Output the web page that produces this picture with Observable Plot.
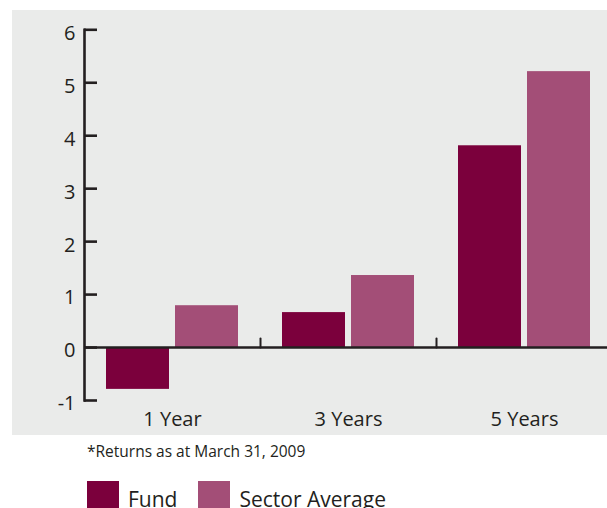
<!DOCTYPE html>
<html><head><meta charset="utf-8">
<script src="https://cdn.jsdelivr.net/npm/d3@7"></script>
<script src="https://cdn.jsdelivr.net/npm/@observablehq/plot@0.6"></script>
<style>
html,body{margin:0;padding:0;background:#fff;width:607px;height:508px;overflow:hidden;font-family:"Open Sans",sans-serif;color:#231f20}
#chart{position:absolute;left:12px;top:10px;width:595px;height:425px;background:#eaebea;overflow:hidden}
#caption{position:absolute;left:87px;top:444px;font-size:15.5px;line-height:15px;white-space:nowrap}
#legend{position:absolute;left:87px;top:481px;display:flex;align-items:flex-start;white-space:nowrap}
.item{display:flex;align-items:flex-start;margin-right:21px}
.sw{width:32px;height:30px;margin-right:9px}
.lab{font-size:21px;line-height:20px;position:relative;top:8px}
</style></head><body>
<div id="chart"></div>
<div id="caption">*Returns as at March 31, 2009</div>
<div id="legend"></div>
<script>
const periods = ["1 Year", "3 Years", "5 Years"];
const seriesNames = ["Fund", "Sector Average"];
const fundValues = [-0.79, 0.66, 3.81];
const sectorValues = [0.79, 1.36, 5.21];
const yTicks = [-1, 0, 1, 2, 3, 4, 5, 6];
const colors = ["#7b003c", "#a34e77"];

const data = periods.flatMap((p, i) => [
  {period: p, series: seriesNames[0], value: fundValues[i]},
  {period: p, series: seriesNames[1], value: sectorValues[i]}
]);

const ink = "#231f20";
const tickUp = {draw(ctx, l) { ctx.moveTo(0, 0); ctx.lineTo(0, -l); }};

const chart = Plot.plot({
  width: 595, height: 425,
  marginLeft: 72, marginRight: 0, marginTop: 19.3, marginBottom: 35,
  style: {background: "transparent", fontFamily: '"Open Sans", sans-serif', color: ink},
  fx: {domain: periods, padding: 0, range: [72, 600], label: null},
  x: {domain: seriesNames, paddingInner: 0.0857, paddingOuter: 0.3, axis: null},
  y: {domain: [-1, 6], label: null},
  color: {domain: seriesNames, range: colors},
  marks: [
    Plot.barY(data, {fx: "period", x: "series", y: "value", fill: "series"}),
    Plot.ruleY([0], {stroke: ink, strokeWidth: 2.6}),
    Plot.vector(periods.slice(1), {fx: d => d, y: 0, frameAnchor: "left", length: 9, anchor: "start", shape: tickUp, stroke: ink, strokeWidth: 2}),
    Plot.frame({anchor: "left", facetAnchor: "left", stroke: ink, strokeWidth: 2.6}),
    Plot.axisY(yTicks, {tickSize: -13, tickFormat: () => "", stroke: ink, strokeWidth: 2.6}),
    Plot.axisY(yTicks, {tickSize: 0, tickPadding: 9, dy: 3.5, fontSize: 20, fill: ink, tickFormat: d => String(d)}),
    Plot.axisFx({anchor: "bottom", tickSize: 0, tickPadding: 11, fontSize: 20, label: null, fill: ink})
  ]
});
document.getElementById("chart").appendChild(chart);

const legend = document.getElementById("legend");
seriesNames.forEach((s, i) => {
  const item = document.createElement("div");
  item.className = "item";
  const sw = document.createElement("div");
  sw.className = "sw";
  sw.style.background = colors[i];
  const lab = document.createElement("span");
  lab.className = "lab";
  lab.textContent = s;
  item.appendChild(sw);
  item.appendChild(lab);
  legend.appendChild(item);
});
</script>
</body></html>
